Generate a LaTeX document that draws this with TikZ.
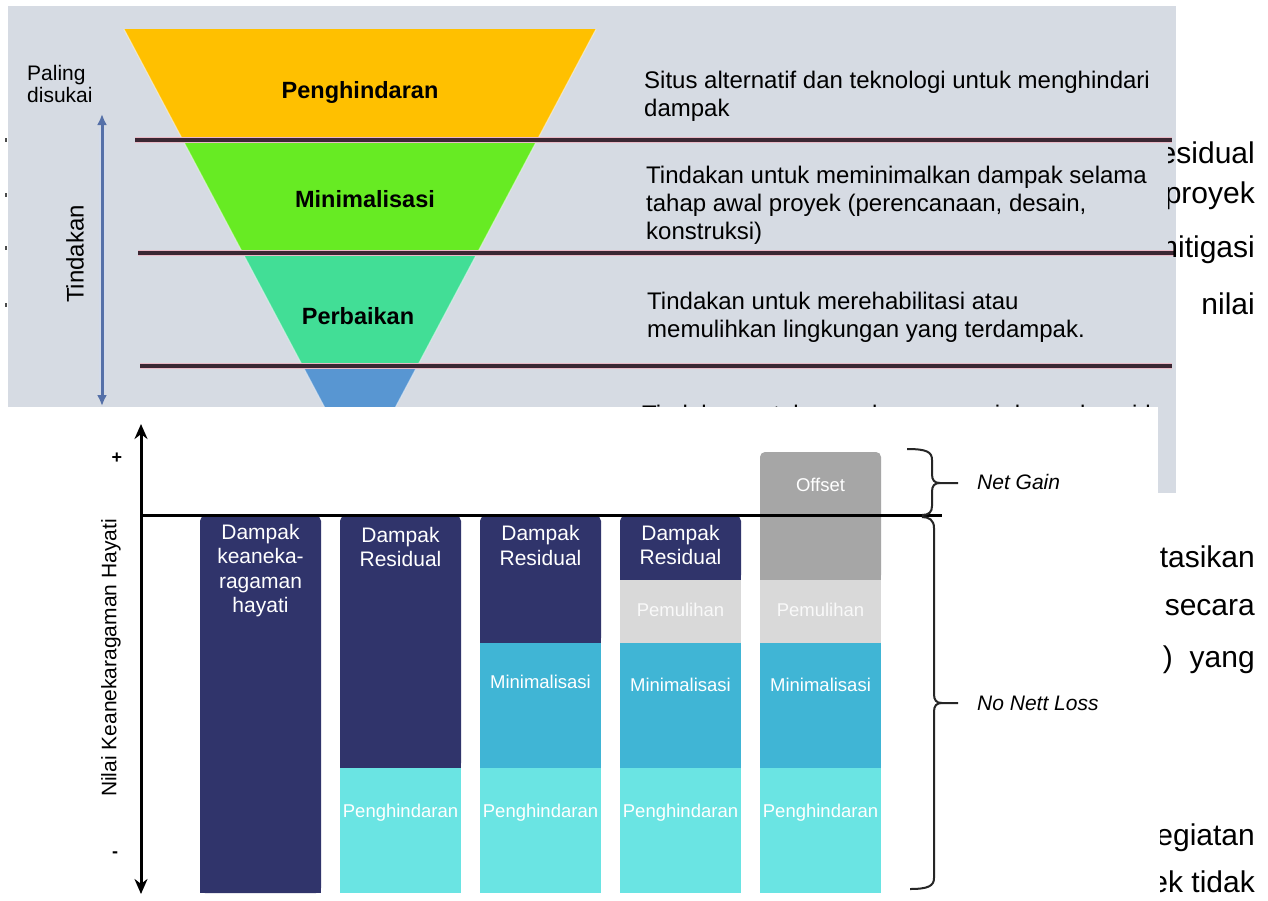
\documentclass[tikz,border=0pt]{standalone}
\usepackage{fontspec}
\setmainfont{Liberation Sans}
\usetikzlibrary{arrows.meta,positioning}

\definecolor{panelgray}{HTML}{D6DBE3}
\definecolor{avoidorange}{HTML}{FFC000}
\definecolor{minigreen}{HTML}{67EB23}
\definecolor{repairteal}{HTML}{42DE96}
\definecolor{offsetblue}{HTML}{5896D2}
\definecolor{linedark}{HTML}{3B2733}
\definecolor{linepink}{HTML}{EAB9C6}
\definecolor{arrowblue}{HTML}{5570A8}
\definecolor{impactnavy}{HTML}{30346B}
\definecolor{minicyan}{HTML}{40B5D5}
\definecolor{avoidcyan}{HTML}{6AE4E3}
\definecolor{restgray}{HTML}{D9D9D9}
\definecolor{offsetgray}{HTML}{A6A6A6}

\begin{document}
\begin{tikzpicture}[
    x=1pt, y=-1pt,
    every node/.style={inner sep=0pt},
    doctext/.style={font=\fontsize{30}{36}\selectfont, anchor=east},
    descr/.style={font=\fontsize{24}{28}\selectfont, align=left, anchor=west},
    tierlabel/.style={font=\fontsize{23.5}{28}\selectfont\bfseries},
    barhead/.style={font=\fontsize{21}{24.5}\selectfont, text=white, align=center},
    barlabel/.style={font=\fontsize{18.5}{22}\selectfont, text=white},
    sidenote/.style={font=\fontsize{21}{25}\selectfont\itshape, anchor=west}
]

\useasboundingbox (0,0) rectangle (1268,900);
\fill[white] (0,0) rectangle (1268,900);

% Mitigation hierarchy panel (top)
\fill[panelgray] (8,6) rectangle (1176,493);

% Stray marks at the left margin
\foreach \my in {140,195,248,305} {
    \fill[black!70] (5,\my-2) rectangle (7,\my+2);
}

% Funnel tiers
\fill[avoidorange] (124,29) -- (596,29) -- (537.2,140) -- (182.8,140) -- cycle;
\fill[minigreen] (182.8,140) -- (537.2,140) -- (477.3,253) -- (242.7,253) -- cycle;
\fill[repairteal] (242.7,253) -- (477.3,253) -- (417.4,366) -- (302.6,366) -- cycle;
\fill[offsetblue] (302.6,366) -- (417.4,366) -- (360,474) -- cycle;
\draw[white, opacity=0.5, line width=1pt] (124,29) -- (360,474) -- (596,29);

% Tier separators
\foreach \ly/\lx/\rx in {140/135/1172, 253/138/1174, 366/140/1172} {
    \draw[linepink, line width=6pt] (\lx,\ly) -- (\rx,\ly);
    \draw[linedark, line width=3.5pt] (\lx,\ly) -- (\rx,\ly);
}

% Tier names
\node[tierlabel] (avoid) at (360,92) {Penghindaran};
\node[tierlabel] (minimise) at (365,199) {Minimalisasi};
\node[tierlabel] (repair) at (358,316) {Perbaikan};

% Tier descriptions
\node[descr] (avoiddesc) at (644,96) {Situs alternatif dan teknologi untuk menghindari\\dampak};
\node[descr] (minidesc) at (646,205) {Tindakan untuk meminimalkan dampak selama\\tahap awal proyek (perencanaan, desain,\\konstruksi)};
\node[descr] (repairdesc) at (647,317) {Tindakan untuk merehabilitasi atau\\memulihkan lingkungan yang terdampak.};
\begin{scope}
\clip (630,380) rectangle (1150,407);
\node[descr, anchor=base west] (offsetdesc) at (642,422) {Tindakan untuk mengkompensasi dampak residual};
\end{scope}

% Preference axis
\node[font=\fontsize{21}{22}\selectfont, align=left, anchor=west] (prefer) at (27,84) {Paling\\disukai};
\coordinate (acttop) at (102,114);
\coordinate (actbot) at (102,406);
\draw[arrowblue!25, line width=7pt] (102,128) -- (102,392);
\draw[arrowblue, line width=3pt, {Latex[length=11pt,width=10pt]}-{Latex[length=11pt,width=10pt]}] (acttop) -- (actbot);
\node[font=\fontsize{24}{28}\selectfont, rotate=90] (action) at (75,254) {Tindakan};

% Document text beside the panel
\begin{scope}
\clip (1168,120) rectangle (1268,340);
\node[doctext] (frag1) at (1255,153) {esidual};
\node[doctext] (frag2) at (1255,196) {proyek};
\node[doctext] (frag3) at (1255,250) {mitigasi};
\node[doctext] (frag4) at (1255,304) {nilai};
\end{scope}

% Biodiversity value chart (bottom)
\fill[white] (0,407) rectangle (1158,900);

\begin{scope}
\clip (1160,500) rectangle (1268,900);
\node[doctext] (frag5) at (1255,557) {ntasikan};
\node[doctext] (frag6) at (1255,608) {secara};
\node[doctext] (frag7) at (1255,660) {)\hspace{17pt}yang};
\node[doctext] (frag8) at (1255,838) {egiatan};
\node[doctext] (frag9) at (1255,885) {yek tidak};
\end{scope}

\def\cw{121}

% Column 1: total impact
\fill[impactnavy, rounded corners=5pt] (200,516) rectangle +(\cw,377);
\fill[impactnavy] (200,530) rectangle +(\cw,363);
\node[barhead] (impact) at (260.5,570.5) {Dampak\\keaneka-\\ragaman\\hayati};

% Residual impact tops
\fill[impactnavy, rounded corners=5pt] (340,516) rectangle (461,768);
\fill[impactnavy] (340,530) rectangle (461,768);
\fill[impactnavy, rounded corners=5pt] (480,516) rectangle (601,643);
\fill[impactnavy] (480,530) rectangle (601,643);
\fill[impactnavy, rounded corners=5pt] (620,516) rectangle (741,580);
\fill[impactnavy] (620,530) rectangle (741,580);
\node[barhead] (resid2) at (400.5,547) {Dampak\\Residual};
\node[barhead] (resid3) at (540.5,545.5) {Dampak\\Residual};
\node[barhead] (resid4) at (680.5,545) {Dampak\\Residual};

% Offset block
\fill[offsetgray, rounded corners=5pt] (760,452) rectangle (881,580);
\fill[offsetgray] (760,470) rectangle (881,580);
\node[barlabel] (offset) at (820.5,485) {Offset};

% Restoration
\foreach \cx in {620,760} {
    \fill[restgray] (\cx,580) rectangle +(\cw,63);
    \node[barlabel, text=white!95!gray] (restore-\cx) at (\cx+60.5,610) {Pemulihan};
}

% Minimisation
\foreach \cx/\ty in {480/682,620/685,760/685} {
    \fill[minicyan] (\cx,643) rectangle +(\cw,125);
    \node[barlabel] (mini-\cx) at (\cx+60.5,\ty) {Minimalisasi};
}

% Avoidance
\foreach \cx in {340,480,620,760} {
    \fill[avoidcyan] (\cx,768) rectangle +(\cw,125);
    \node[barlabel] (avoid-\cx) at (\cx+60.5,813) {Penghindaran};
}

% Axes
\coordinate (ytop) at (141,424);
\coordinate (ybot) at (141,894);
\coordinate (xzero) at (141,515);
\coordinate (xend) at (942,515);
\draw[line width=3pt, {Stealth[length=15pt,width=13pt]}-{Stealth[length=15pt,width=13pt]}] (ybot) -- (ytop);
\draw[line width=3pt] (xzero) -- (xend);
\node[font=\fontsize{18}{20}\selectfont\bfseries] (plus) at (117,458) {+};
\node[font=\fontsize{18}{20}\selectfont\bfseries] (minus) at (115,855) {-};
\node[font=\fontsize{21}{25}\selectfont, rotate=90] (yaxis) at (111,658) {Nilai Keanekaragaman Hayati};

% Braces
\draw[black!85, line width=2pt] (907,449) .. controls (927,449) and (932,452) .. (932,460)
    -- (932,474) .. controls (932,480) and (934,483) .. (940,483) -- (958,483);
\draw[black!85, line width=2pt] (940,483) .. controls (934,483) and (932,486) .. (932,492)
    -- (932,506) .. controls (932,512) and (929,515) .. (922,515);
\draw[black!85, line width=2pt] (922,517) .. controls (929,517) and (934,520) .. (934,528)
    -- (934,694) .. controls (934,700) and (936,703) .. (942,703) -- (958,703);
\draw[black!85, line width=2pt] (942,703) .. controls (936,703) and (934,706) .. (934,712)
    -- (934,878) .. controls (934,886) and (928,889) .. (910,889);
\node[sidenote] (gain) at (977,482) {Net Gain};
\node[sidenote] (noloss) at (977,703) {No Nett Loss};

\end{tikzpicture}
\end{document}
